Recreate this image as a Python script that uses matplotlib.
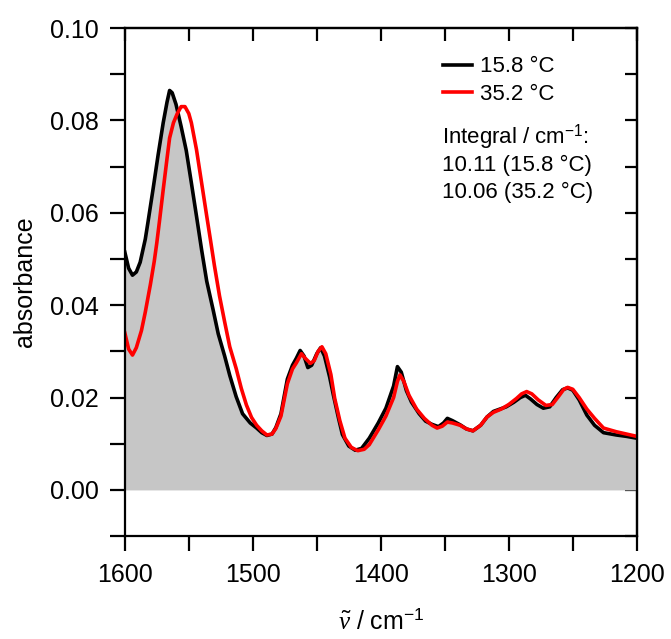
import numpy as np
import matplotlib
matplotlib.use("Agg")
from matplotlib import pyplot as plt
from matplotlib.ticker import MultipleLocator

plt.rcParams['font.family'] = ['Liberation Sans', 'DejaVu Sans']
plt.rcParams['mathtext.fontset'] = 'custom'
plt.rcParams['mathtext.rm'] = 'Liberation Sans'
plt.rcParams['mathtext.it'] = 'Liberation Serif:italic'

# spectrum at 15.8 C (wavenumber, absorbance)
wn_low = [1600, 1597, 1594, 1591, 1588, 1584, 1582, 1578, 1574, 1570, 1567, 1565,
          1563, 1560, 1556, 1552, 1548, 1544, 1540, 1536, 1531, 1527, 1522, 1518,
          1513, 1508, 1502, 1497, 1493, 1489, 1485, 1482, 1478, 1473, 1469, 1466,
          1463, 1460, 1457, 1454, 1450, 1447, 1444, 1440, 1437, 1433, 1430, 1425,
          1420, 1415, 1409, 1402, 1396, 1390, 1387, 1384, 1380, 1376, 1370, 1365,
          1360, 1355, 1351, 1348, 1344, 1338, 1333, 1328, 1322, 1317, 1312, 1307,
          1302, 1296, 1291, 1287, 1283, 1278, 1273, 1268, 1263, 1258, 1254, 1250,
          1245, 1239, 1233, 1226, 1216, 1208, 1200]
abs_low = [0.0515, 0.0480, 0.0465, 0.0472, 0.0493, 0.0543, 0.0578, 0.0650, 0.0725,
           0.0795, 0.0840, 0.0865, 0.0860, 0.0835, 0.0787, 0.0735, 0.0665, 0.0593,
           0.0520, 0.0452, 0.0390, 0.0338, 0.0290, 0.0248, 0.0202, 0.0165, 0.0145,
           0.0134, 0.0124, 0.0118, 0.0121, 0.0135, 0.0165, 0.0240, 0.0270, 0.0285,
           0.0302, 0.0290, 0.0265, 0.0270, 0.0295, 0.0308, 0.0290, 0.0245, 0.0205,
           0.0155, 0.0120, 0.0095, 0.0086, 0.0090, 0.0112, 0.0145, 0.0177, 0.0225,
           0.0267, 0.0255, 0.0215, 0.0190, 0.0165, 0.0149, 0.0142, 0.0137, 0.0145,
           0.0155, 0.0150, 0.0141, 0.0132, 0.0128, 0.0140, 0.0158, 0.0170, 0.0175,
           0.0180, 0.0190, 0.0200, 0.0205, 0.0197, 0.0185, 0.0177, 0.0180, 0.0200,
           0.0217, 0.0221, 0.0216, 0.0195, 0.0162, 0.0140, 0.0124, 0.0119, 0.0116,
           0.0112]

# spectrum at 35.2 C
wn_high = [1600, 1597, 1594, 1591, 1587, 1584, 1580, 1577, 1575, 1573, 1570, 1567,
           1565, 1562, 1559, 1556, 1553, 1550, 1548, 1544, 1540, 1536, 1533, 1530,
           1526, 1522, 1518, 1513, 1509, 1505, 1501, 1497, 1493, 1489, 1485, 1482,
           1478, 1473, 1469, 1466, 1462, 1459, 1455, 1452, 1449, 1446, 1443, 1439,
           1436, 1432, 1428, 1423, 1418, 1413, 1409, 1402, 1396, 1390, 1387, 1385,
           1382, 1378, 1372, 1366, 1360, 1356, 1352, 1348, 1344, 1338, 1333, 1328,
           1322, 1317, 1312, 1306, 1300, 1294, 1290, 1286, 1282, 1277, 1271, 1266,
           1261, 1257, 1254, 1250, 1245, 1239, 1233, 1226, 1216, 1208, 1200]
abs_high = [0.0340, 0.0305, 0.0292, 0.0308, 0.0345, 0.0385, 0.0445, 0.0495, 0.0535,
            0.0580, 0.0650, 0.0718, 0.0762, 0.0795, 0.0815, 0.0830, 0.0830, 0.0815,
            0.0795, 0.0737, 0.0665, 0.0593, 0.0540, 0.0486, 0.0420, 0.0364, 0.0310,
            0.0263, 0.0220, 0.0184, 0.0157, 0.0140, 0.0128, 0.0119, 0.0121, 0.0133,
            0.0160, 0.0230, 0.0262, 0.0275, 0.0295, 0.0285, 0.0274, 0.0280, 0.0300,
            0.0310, 0.0295, 0.0250, 0.0198, 0.0150, 0.0112, 0.0092, 0.0085, 0.0088,
            0.0098, 0.0130, 0.0160, 0.0200, 0.0235, 0.0249, 0.0235, 0.0205, 0.0175,
            0.0155, 0.0140, 0.0134, 0.0138, 0.0147, 0.0145, 0.0140, 0.0132, 0.0128,
            0.0140, 0.0158, 0.0168, 0.0175, 0.0185, 0.0198, 0.0208, 0.0213, 0.0208,
            0.0195, 0.0183, 0.0185, 0.0203, 0.0218, 0.0222, 0.0218, 0.0200, 0.0175,
            0.0155, 0.0134, 0.0126, 0.0121, 0.0116]

labels = ['15.8 °C', '35.2 °C']
integrals = ['10.11 (15.8 °C)', '10.06 (35.2 °C)']

fig = plt.figure(figsize=(6.71, 6.39), dpi=100)
ax = fig.add_axes([0.186, 0.161, 0.763, 0.795])

ax.fill_between(wn_low, 0, abs_low, color='#c6c6c6', lw=0)
ax.plot(wn_low, abs_low, color='black', lw=2.6, label=labels[0])
ax.plot(wn_high, abs_high, color='#ff0000', lw=2.6, label=labels[1])

ax.set_xlim(1600, 1200)
ax.set_ylim(-0.01, 0.10)
ax.xaxis.set_major_locator(MultipleLocator(100))
ax.xaxis.set_minor_locator(MultipleLocator(50))
ax.yaxis.set_major_locator(MultipleLocator(0.02))
ax.yaxis.set_minor_locator(MultipleLocator(0.01))
ax.yaxis.set_major_formatter(plt.FormatStrFormatter('%.2f'))

for sp in ax.spines.values():
    sp.set_linewidth(1.6)
ax.tick_params(which='both', direction='out', length=11, width=1.6,
               labelsize=18, pad=8, top=False, right=False)
# inward ticks on top and right, like the original
ax2 = ax.secondary_xaxis('top')
ax2.xaxis.set_major_locator(MultipleLocator(100))
ax2.xaxis.set_minor_locator(MultipleLocator(50))
ax2.tick_params(which='both', direction='in', length=9, width=1.6, labeltop=False)
ax3 = ax.secondary_yaxis('right')
ax3.yaxis.set_major_locator(MultipleLocator(0.02))
ax3.yaxis.set_minor_locator(MultipleLocator(0.01))
ax3.tick_params(which='both', direction='in', length=9, width=1.6, labelright=False)
ax2.spines['top'].set_linewidth(1.6)
ax3.spines['right'].set_linewidth(1.6)

ax.set_ylabel('absorbance', fontsize=18, labelpad=9)
ax.set_xlabel(r'$\tilde{\nu}$ / cm$^{\mathrm{-1}}$', fontsize=18, labelpad=16)

ax.legend(loc='upper left', bbox_to_anchor=(0.605, 0.962), frameon=False,
          fontsize=16, handlelength=1.3, handletextpad=0.35, labelspacing=0.3,
          borderaxespad=0)
ax.text(0.62, 0.785, 'Integral / cm$^{\\mathrm{-1}}$:', transform=ax.transAxes,
        fontsize=16, va='center', ha='left')
ax.text(0.62, 0.730, integrals[0], transform=ax.transAxes,
        fontsize=16, va='center', ha='left')
ax.text(0.62, 0.677, integrals[1], transform=ax.transAxes,
        fontsize=16, va='center', ha='left')

fig.savefig('out.png', dpi=100)
